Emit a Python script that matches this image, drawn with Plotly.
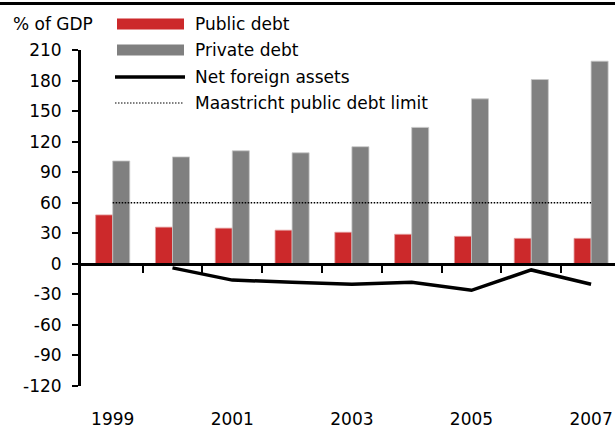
import plotly.graph_objects as go

# ---- data ----
years = [1999, 2000, 2001, 2002, 2003, 2004, 2005, 2006, 2007]
public_debt = [48, 36, 35, 33, 31, 29, 27, 25, 25]
private_debt = [101, 105, 111, 109, 115, 134, 162, 181, 199]
net_foreign_assets = [None, -4, -16, -18, -20, -18, -26, -6, -20]
maastricht_limit = 60
y_ticks = [-120, -90, -60, -30, 0, 30, 60, 90, 120, 150, 180, 210]
y_tick_text = [str(v) for v in y_ticks]  # plain hyphen minus as in the source
x_label_years = [1999, 2001, 2003, 2005, 2007]
boundaries = [y + 0.5 for y in years[:-1]]

W, H = 615, 428
ML, MR, MT, MB = 81, 0, 50, 42
PW, PH = W - ML - MR, H - MT - MB
FONT = "DejaVu Sans"
FS = 17

RED = "#CC292B"
GRAY = "#808080"


def px(x):
    return (x - ML) / PW


def py(y):
    return (H - MB - y) / PH


fig = go.Figure()
fig.add_trace(go.Bar(x=years, y=public_debt, name="Public debt",
                     marker=dict(color=RED, line=dict(color="#e39a9a", width=0.8)),
                     showlegend=False))
fig.add_trace(go.Bar(x=years, y=private_debt, name="Private debt",
                     marker=dict(color=GRAY, line=dict(color="#c8c8c8", width=0.8)),
                     showlegend=False))
fig.add_trace(go.Scatter(x=years, y=[maastricht_limit] * len(years),
                         name="Maastricht public debt limit", mode="lines",
                         line=dict(color="black", width=1.6, dash="1.5px,1.5px"),
                         showlegend=False))
fig.add_trace(go.Scatter(x=years, y=net_foreign_assets, name="Net foreign assets",
                         mode="lines", xaxis="x2",
                         line=dict(color="black", width=3.5),
                         showlegend=False))

y_min, y_max = -120, 210
zero_pos = (0 - y_min) / (y_max - y_min)
x_range = [1998.47, 2007.40]

fig.update_layout(
    width=W, height=H,
    margin=dict(l=ML, r=MR, t=MT, b=MB, autoexpand=False),
    paper_bgcolor="white", plot_bgcolor="white",
    font=dict(family=FONT, size=FS, color="black"),
    barmode="group", bargap=0.43, bargroupgap=0,
    xaxis=dict(range=x_range, tickvals=x_label_years,
               ticktext=[str(v) for v in x_label_years],
               showline=False, showgrid=False, zeroline=False, ticks="",
               automargin=False,
               ticklabelstandoff=21, tickfont=dict(family=FONT, size=FS)),
    xaxis2=dict(range=x_range, overlaying="x", anchor="free", position=zero_pos,
                side="bottom", tickvals=boundaries, showticklabels=False,
                showline=True, linecolor="black", linewidth=3,
                ticks="outside", ticklen=7, tickwidth=1.5, tickcolor="black",
                automargin=False,
                showgrid=False, zeroline=False),
    yaxis=dict(range=[y_min, y_max], tickvals=y_ticks, ticktext=y_tick_text,
               showline=True, linecolor="black", linewidth=3,
               ticks="outside", ticklen=6, tickwidth=1.5, tickcolor="black",
               showgrid=False, zeroline=False, ticklabelstandoff=7,
               automargin=False,
               tickfont=dict(family=FONT, size=FS)),
)

shapes = []
annotations = []
# top frame line
shapes.append(dict(type="line", xref="paper", yref="paper",
                   x0=px(0), x1=px(W), y0=py(3.5), y1=py(3.5),
                   line=dict(color="black", width=3)))

# custom legend
sx0, sx1, tx = 117, 184, 193
items = [
    ("Public debt", "rect", RED, 24),
    ("Private debt", "rect", GRAY, 50),
    ("Net foreign assets", "line", "black", 77),
    ("Maastricht public debt limit", "dot", "black", 103),
]
for label, kind, color, yc in items:
    if kind == "rect":
        shapes.append(dict(type="rect", xref="paper", yref="paper",
                           x0=px(sx0), x1=px(sx1), y0=py(yc - 5.5), y1=py(yc + 5.5),
                           fillcolor=color, line=dict(width=0)))
    elif kind == "line":
        shapes.append(dict(type="line", xref="paper", yref="paper",
                           x0=px(sx0 - 2), x1=px(sx1 + 1), y0=py(yc), y1=py(yc),
                           line=dict(color=color, width=3.5)))
    else:
        shapes.append(dict(type="line", xref="paper", yref="paper",
                           x0=px(sx0 - 2), x1=px(sx1), y0=py(yc), y1=py(yc),
                           line=dict(color=color, width=1.2, dash="1.5px,1.5px")))
    annotations.append(dict(text=label, xref="paper", yref="paper",
                            x=px(tx), y=py(yc), xanchor="left", yanchor="middle",
                            showarrow=False, font=dict(family=FONT, size=FS, color="black")))

annotations.append(dict(text="% of GDP", xref="paper", yref="paper",
                        x=px(11), y=py(24), xanchor="left", yanchor="middle",
                        showarrow=False, font=dict(family=FONT, size=FS, color="black")))

fig.update_layout(shapes=shapes, annotations=annotations)

fig.write_html("out.html")
